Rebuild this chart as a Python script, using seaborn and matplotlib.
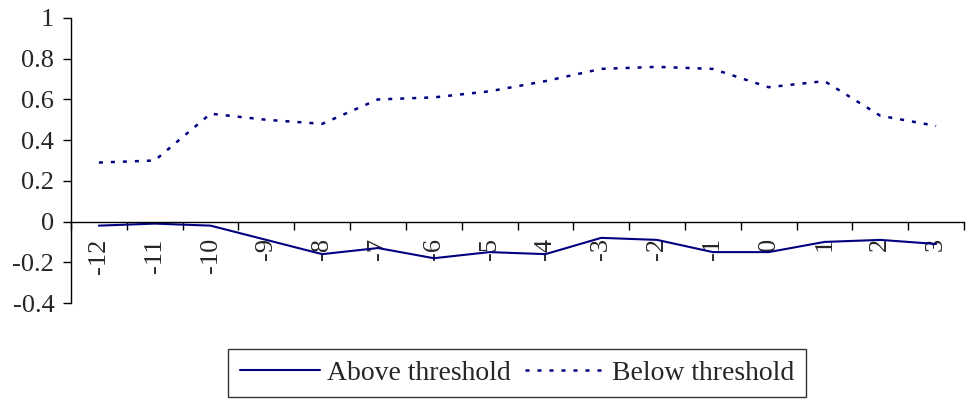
import numpy as np
import pandas as pd
import matplotlib
matplotlib.use("Agg")
import matplotlib.pyplot as plt
import seaborn as sns

periods = ["-12", "-11", "-10", "-9", "-8", "-7", "-6", "-5", "-4", "-3", "-2", "-1", "0", "1", "2", "3"]
above = [-0.02, -0.01, -0.02, -0.09, -0.16, -0.13, -0.18, -0.15, -0.16, -0.08, -0.09, -0.15, -0.15, -0.10, -0.09, -0.11]
below = [0.29, 0.30, 0.53, 0.50, 0.48, 0.60, 0.61, 0.64, 0.69, 0.75, 0.76, 0.75, 0.66, 0.69, 0.52, 0.47]
y_ticks = [-0.4, -0.2, 0, 0.2, 0.4, 0.6, 0.8, 1]
y_labels = ["-0.4", "-0.2", "0", "0.2", "0.4", "0.6", "0.8", "1"]

sns.set_style("white")
plt.rcParams["font.family"] = ["Liberation Serif", "DejaVu Serif"]

navy = "#000080"
dotted = (0, (1.6, 3.2))
pos = np.arange(len(periods))
df_above = pd.DataFrame({"pos": pos, "value": above})
df_below = pd.DataFrame({"pos": pos, "value": below})

fig = plt.figure(figsize=(9.68, 4.03), dpi=100)
ax = fig.add_axes([71 / 968, 1 - 303 / 403, (964 - 71) / 968, (303 - 18) / 403])

sns.lineplot(data=df_above, x="pos", y="value", ax=ax, color=navy, lw=1.5,
             label="Above threshold")
sns.lineplot(data=df_below, x="pos", y="value", ax=ax, color=navy, lw=1.8,
             label="Below threshold")
ax.lines[1].set_linestyle(dotted)

ax.set_xlim(-0.5, len(periods) - 0.5)
ax.set_ylim(-0.4, 1.0)
ax.set_xlabel("")
ax.set_ylabel("")

ax.spines["top"].set_visible(False)
ax.spines["right"].set_visible(False)
ax.spines["bottom"].set_position(("data", 0))
for s in ["left", "bottom"]:
    ax.spines[s].set_color("black")
    ax.spines[s].set_linewidth(1.0)

ax.set_yticks(y_ticks)
ax.set_yticklabels(y_labels, fontsize=19)
ax.tick_params(axis="y", direction="out", length=6, width=1, color="black", pad=6, left=True)

ax.set_xticks(np.arange(-0.5, len(periods), 1.0))
ax.set_xticklabels([])
ax.tick_params(axis="x", which="major", direction="out", length=5.5, width=1, color="black", bottom=True)
ax.set_xticks(pos, minor=True)
ax.set_xticklabels(periods, minor=True, rotation=90, fontsize=19)
ax.tick_params(axis="x", which="minor", length=0, pad=12)

ax.get_legend().remove()
handles, labels = ax.get_legend_handles_labels()
handles[1].set_linestyle(dotted)
leg = fig.legend(handles, labels, loc="center", bbox_to_anchor=(517 / 968, 1 - 373 / 403), ncol=2,
                 fontsize=20, frameon=True, fancybox=False, handlelength=2.9,
                 handletextpad=0.25, columnspacing=0.5, borderpad=0.4, borderaxespad=0,
                 edgecolor="black")
leg.get_frame().set_linewidth(1.0)

fig.savefig("out.png", dpi=100)
